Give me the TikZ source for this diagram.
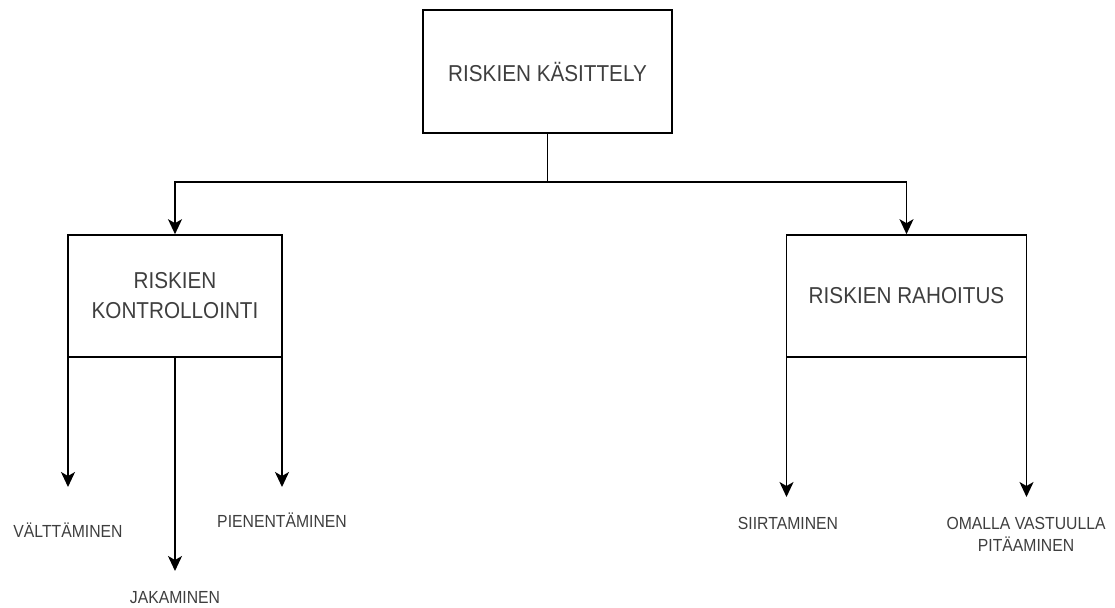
\documentclass[tikz,border=0pt]{standalone}
\usepackage{fontspec}
\newfontfamily\labfont[FakeStretch=0.9]{Liberation Sans}
\usetikzlibrary{arrows.meta}
\definecolor{txt}{RGB}{62,62,62}
\tikzset{
  box/.style={draw=black, line width=1.6pt, rectangle, inner sep=0pt, text=txt,
    font=\labfont\fontsize{23}{30}\selectfont, align=center},
  leaf/.style={inner sep=0pt, text=txt, font=\labfont\fontsize{17.5}{22}\selectfont, align=center},
  link/.style={line width=1.6pt, draw=black},
  arr/.style={link, -{Stealth[length=15pt,width=14pt,inset=4pt]}}
}
\begin{document}
\begin{tikzpicture}[x=1pt,y=-1pt]
\useasboundingbox (0,0) rectangle (1115,607);
\node[box, minimum width=249pt, minimum height=123pt] (top) at (547.5,71.5) {RISKIEN KÄSITTELY};
\node[box, minimum width=214pt, minimum height=122pt] (ctrl) at (175,296) {RISKIEN\\KONTROLLOINTI};
\node[box, minimum width=240pt, minimum height=122pt] (fin) at (906.5,296) {RISKIEN RAHOITUS};

\node[leaf] (valt) at (68,530) {VÄLTTÄMINEN};
\node[leaf] (jak) at (175,598) {JAKAMINEN};
\node[leaf] (pien) at (282,520) {PIENENTÄMINEN};
\node[leaf] (siir) at (788,523) {SIIRTAMINEN};
\node[leaf] (oma) at (1026,534) {OMALLA VASTUULLA\\PITÄAMINEN};

\coordinate (j) at (547.5,182);
\coordinate (ya) at (0,487);
\coordinate (yb) at (0,571);
\coordinate (yc) at (0,497);

\draw[link] (top.south) -- (j);
\draw[arr] (j) -| (ctrl.north);
\draw[arr] (j) -| (fin.north);

\draw[arr] ([xshift=0.8pt]ctrl.south west) -- ([xshift=0.8pt]ctrl.south west |- ya);
\draw[arr] (ctrl.south) -- (ctrl.south |- yb);
\draw[arr] ([xshift=-0.8pt]ctrl.south east) -- ([xshift=-0.8pt]ctrl.south east |- ya);
\draw[arr] ([xshift=0.8pt]fin.south west) -- ([xshift=0.8pt]fin.south west |- yc);
\draw[arr] ([xshift=-0.8pt]fin.south east) -- ([xshift=-0.8pt]fin.south east |- yc);
\end{tikzpicture}
\end{document}
